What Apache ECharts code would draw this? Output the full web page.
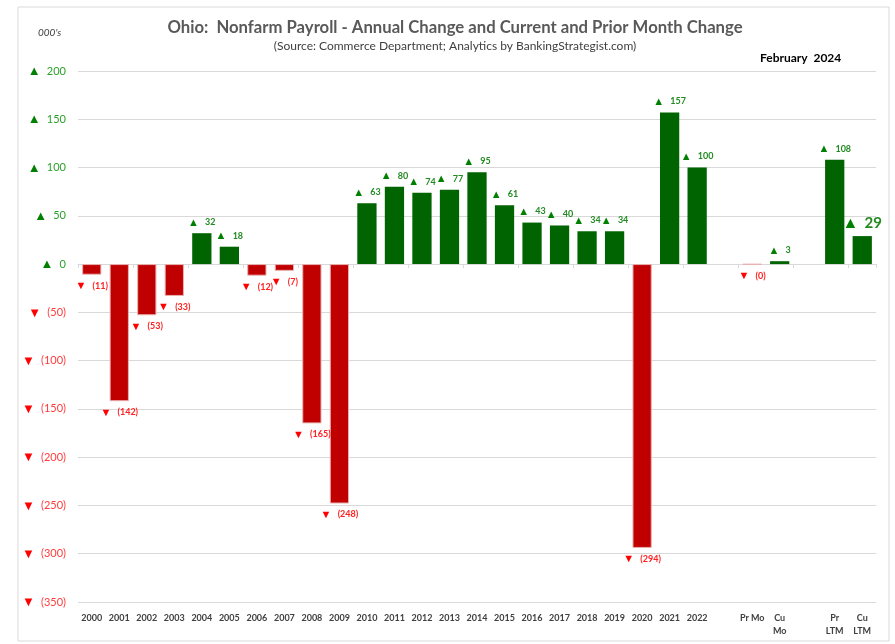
<!DOCTYPE html>
<html>
<head>
<meta charset="utf-8">
<script src="https://cdn.jsdelivr.net/npm/echarts@6/dist/echarts.min.js"></script>
<style>
  html, body { margin: 0; padding: 0; background: #fff; }
  #main { width: 895px; height: 644px; }
</style>
</head>
<body>
<div id="main"></div>
<script>
// categories along the x axis ('' = spacer slots)
var categories = ['2000','2001','2002','2003','2004','2005','2006','2007','2008','2009',
  '2010','2011','2012','2013','2014','2015','2016','2017','2018','2019','2020','2021','2022',
  '','Pr Mo','Cu\nMo','','Pr\nLTM','Cu\nLTM'];
// change in jobs, thousands
var values = [-11,-142,-53,-33,32,18,-12,-7,-165,-248,
  63,80,74,77,95,61,43,40,34,34,-294,157,100,
  null,-0.4,3,null,108,29];
var yTicks = { min: -350, max: 200, step: 50 };
var bigLabelCat = 'Cu\nLTM';

var GREEN = '#006400', RED = '#c00000';
var font = 'Lato, "Liberation Sans", sans-serif';

function fmt(v) {
  if (v >= 0) return '{u|▲}  {g|' + Math.round(v) + '}';
  return '{d|▼}  {r|(' + Math.round(Math.abs(v)) + ')}';
}

var myChart = echarts.init(document.getElementById('main'));

var barData = values.map(function (v, i) {
  if (v === null) return null;
  var big = categories[i] === bigLabelCat;
  return {
    value: v,
    itemStyle: v >= 0 ? { color: GREEN } : { color: RED, borderColor: '#eab0b0', borderWidth: 1 },
    label: {
      position: v >= 0 ? 'top' : 'bottom',
      distance: 5,
      rich: big ? {
        u: { color: '#008000', fontSize: 16 },
        g: { color: '#228b22', fontSize: 15, fontWeight: 'bold', fontFamily: font }
      } : undefined
    }
  };
});

var option = {
  animation: false,
  textStyle: { fontFamily: font },
  graphic: [
    { type: 'rect', shape: { x: 18, y: 7, width: 871, height: 634 },
      style: { fill: 'none', stroke: '#d9d9d9', lineWidth: 1 }, silent: true },
    { type: 'text', x: 455, y: 19, style: { text: 'Ohio:  Nonfarm Payroll - Annual Change and Current and Prior Month Change',
      font: 'bold 16.7px ' + font, fill: '#595959', textAlign: 'center' } },
    { type: 'text', x: 455, y: 40, style: { text: '(Source: Commerce Department; Analytics by BankingStrategist.com)',
      font: '12px ' + font, fill: '#404040', textAlign: 'center' } },
    { type: 'text', x: 760, y: 52, style: { text: 'February  2024',
      font: 'bold 12px ' + font, fill: '#000' } },
    { type: 'text', x: 38, y: 28, style: { text: "000's",
      font: 'italic 10px ' + font, fill: '#404040' } }
  ],
  grid: { left: 78, right: 19, top: 71, bottom: 42 },
  xAxis: [{
    type: 'category',
    data: categories,
    axisLine: { onZero: true, lineStyle: { color: '#d9d9d9' } },
    axisTick: { show: true, length: 4, lineStyle: { color: '#d9d9d9' } },
    axisLabel: { show: false }
  }, {
    type: 'category',
    data: categories,
    position: 'bottom',
    axisLine: { show: false, onZero: false },
    axisTick: { show: false },
    axisLabel: { interval: 0, margin: 10, fontSize: 9, fontWeight: 'bold', color: '#404040', lineHeight: 13, verticalAlign: 'top' }
  }],
  yAxis: {
    type: 'value',
    min: yTicks.min, max: yTicks.max, interval: yTicks.step,
    axisLine: { show: false },
    axisTick: { show: false },
    splitLine: { lineStyle: { color: '#d9d9d9' } },
    axisLabel: {
      margin: 12,
      formatter: fmt,
      rich: {
        u: { color: '#008000', fontSize: 13 },
        g: { color: '#2ca02c', fontSize: 11, fontFamily: font },
        d: { color: '#ff0000', fontSize: 13 },
        r: { color: '#ff3b3b', fontSize: 11, fontFamily: font }
      }
    }
  },
  series: [{
    type: 'bar',
    data: barData,
    barCategoryGap: '30%',
    label: {
      show: true,
      formatter: function (p) { return fmt(p.value); },
      rich: {
        u: { color: '#008000', fontSize: 11 },
        g: { color: '#228b22', fontSize: 9, fontWeight: 'bold', fontFamily: font },
        d: { color: '#ff0000', fontSize: 11 },
        r: { color: '#ff2020', fontSize: 9, fontWeight: 'bold', fontFamily: font }
      }
    }
  }]
};

myChart.setOption(option);
</script>
</body>
</html>
